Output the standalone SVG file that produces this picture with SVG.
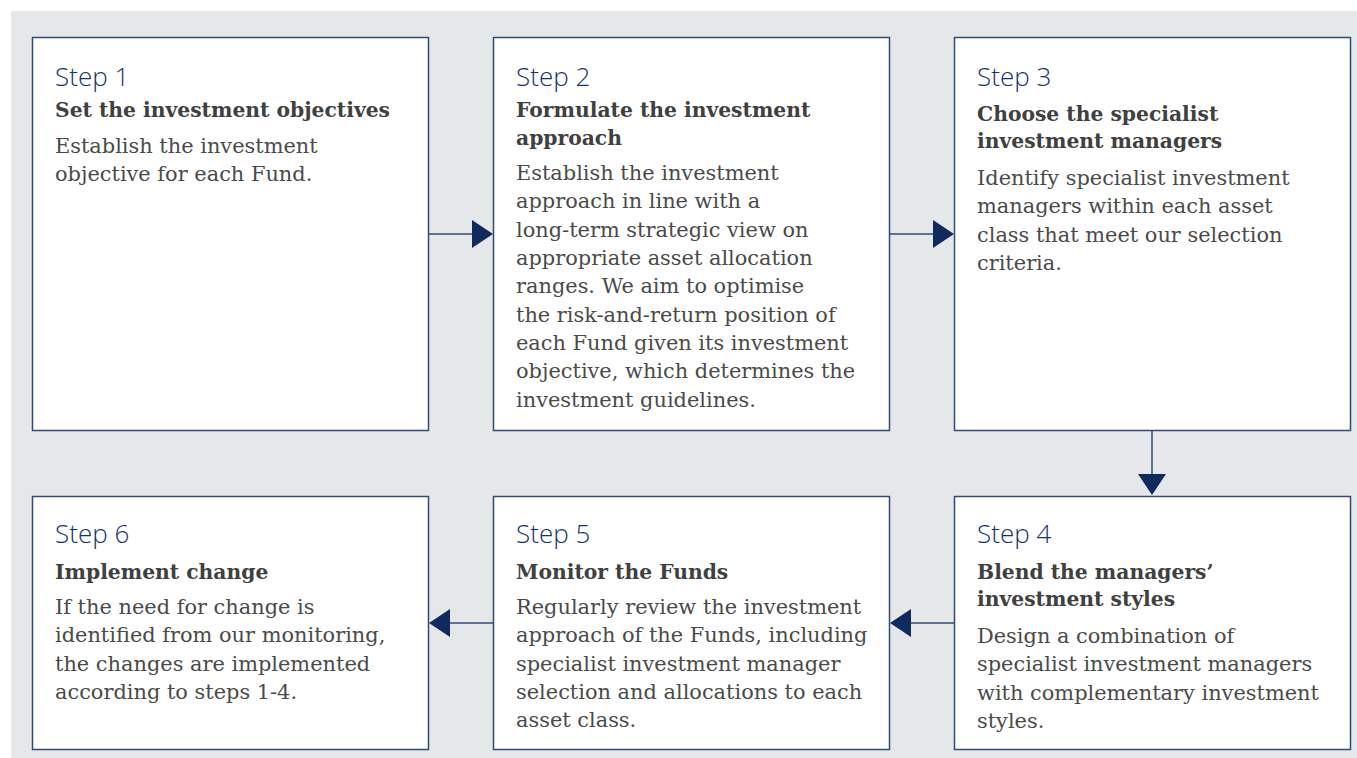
<svg xmlns="http://www.w3.org/2000/svg" width="1357" height="758" viewBox="0 0 1357 758">
<defs>
<style>
.box{fill:#ffffff;stroke:#2e4b7b;stroke-width:1.5}
.step{font-family:"Open Sans","Noto Sans",sans-serif;font-weight:300;font-size:26px;fill:#15336a}
.head{font-family:"DejaVu Serif",serif;font-weight:bold;font-size:20.3px;fill:#404040}
.body{font-family:"DejaVu Serif",serif;font-size:20.9px;fill:#4a4a4a}
.conn{stroke:#2e4b7b;stroke-width:1.5;fill:none}
.tri{fill:#0f2a5c}
</style>
</defs>
<rect x="11" y="11" width="1346" height="747" fill="#e6e7e9"/>
<g id="connectors">
<line class="conn" x1="429" y1="234" x2="473" y2="234"/>
<polygon class="tri" points="472,220 493,234 472,248"/>
<line class="conn" x1="890" y1="234" x2="934" y2="234"/>
<polygon class="tri" points="933,220 954,234 933,248"/>
<line class="conn" x1="1152" y1="431" x2="1152" y2="475"/>
<polygon class="tri" points="1138,474 1166,474 1152,495"/>
<line class="conn" x1="954" y1="623" x2="910" y2="623"/>
<polygon class="tri" points="911,609 890,623 911,637"/>
<line class="conn" x1="493" y1="623" x2="449" y2="623"/>
<polygon class="tri" points="450,609 429,623 450,637"/>
</g>
<g id="step1">
<rect class="box" x="32.5" y="37.5" width="396" height="393"/>
<text class="step" x="55" y="86">Step 1</text>
<text class="head" x="55" y="117">Set the investment objectives</text>
<text class="body" x="55" y="153">Establish the investment</text>
<text class="body" x="55" y="181">objective for each Fund.</text>
</g>
<g id="step2">
<rect class="box" x="493.5" y="37.5" width="396" height="393"/>
<text class="step" x="516" y="86">Step 2</text>
<text class="head" x="516" y="117">Formulate the investment</text>
<text class="head" x="516" y="145">approach</text>
<text class="body" x="516" y="180">Establish the investment</text>
<text class="body" x="516" y="208">approach in line with a</text>
<text class="body" x="516" y="237">long-term strategic view on</text>
<text class="body" x="516" y="265">appropriate asset allocation</text>
<text class="body" x="516" y="293">ranges. We aim to optimise</text>
<text class="body" x="516" y="322">the risk-and-return position of</text>
<text class="body" x="516" y="350">each Fund given its investment</text>
<text class="body" x="516" y="378">objective, which determines the</text>
<text class="body" x="516" y="407">investment guidelines.</text>
</g>
<g id="step3">
<rect class="box" x="954.5" y="37.5" width="396" height="393"/>
<text class="step" x="977" y="86">Step 3</text>
<text class="head" x="977" y="121">Choose the specialist</text>
<text class="head" x="977" y="148">investment managers</text>
<text class="body" x="977" y="185">Identify specialist investment</text>
<text class="body" x="977" y="213">managers within each asset</text>
<text class="body" x="977" y="242">class that meet our selection</text>
<text class="body" x="977" y="270">criteria.</text>
</g>
<g id="step4">
<rect class="box" x="954.5" y="496.5" width="396" height="253"/>
<text class="step" x="977" y="543">Step 4</text>
<text class="head" x="977" y="579">Blend the managers’</text>
<text class="head" x="977" y="606">investment styles</text>
<text class="body" x="977" y="643">Design a combination of</text>
<text class="body" x="977" y="671">specialist investment managers</text>
<text class="body" x="977" y="700">with complementary investment</text>
<text class="body" x="977" y="728">styles.</text>
</g>
<g id="step5">
<rect class="box" x="493.5" y="496.5" width="396" height="253"/>
<text class="step" x="516" y="543">Step 5</text>
<text class="head" x="516" y="579">Monitor the Funds</text>
<text class="body" x="516" y="614">Regularly review the investment</text>
<text class="body" x="516" y="642">approach of the Funds, including</text>
<text class="body" x="516" y="671">specialist investment manager</text>
<text class="body" x="516" y="699">selection and allocations to each</text>
<text class="body" x="516" y="727">asset class.</text>
</g>
<g id="step6">
<rect class="box" x="32.5" y="496.5" width="396" height="253"/>
<text class="step" x="55" y="543">Step 6</text>
<text class="head" x="55" y="579">Implement change</text>
<text class="body" x="55" y="614">If the need for change is</text>
<text class="body" x="55" y="642">identified from our monitoring,</text>
<text class="body" x="55" y="671">the changes are implemented</text>
<text class="body" x="55" y="699">according to steps 1-4.</text>
</g>
</svg>
